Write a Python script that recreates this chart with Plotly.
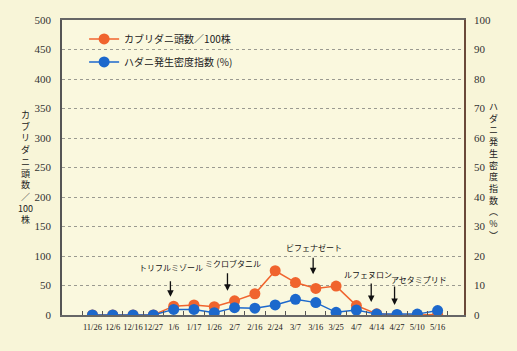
import plotly.graph_objects as go

dates = ["11/26", "12/6", "12/16", "12/27", "1/6", "1/17", "1/26", "2/7", "2/16", "2/24",
         "3/7", "3/16", "3/25", "4/7", "4/14", "4/27", "5/10", "5/16"]
predator = [0, 0, 0, 0, 15, 17, 14, 24, 36, 75, 55, 45, 49, 16, 2, 0, 0, 1]
mite_index = [0, 0, 0, 0, 1.9, 1.9, 0.8, 2.5, 2.3, 3.4, 5.3, 4.2, 0.9, 1.7, 0.3, 0.2, 0.3, 1.5]
left_ticks = [0, 50, 100, 150, 200, 250, 300, 350, 400, 450, 500]
right_ticks = [0, 10, 20, 30, 40, 50, 60, 70, 80, 90, 100]
sprays = ["トリフルミゾール", "ミクロブタニル", "ビフェナゼート", "ルフェヌロン", "アセタミプリド"]

idx = list(range(len(dates)))
ORANGE = "#F0642E"
BLUE = "#1C68CC"
BG = "#F8F5D8"

fig = go.Figure()
fig.add_trace(go.Scatter(
    x=idx, y=predator, name="カブリダニ頭数／100株", mode="lines+markers",
    line=dict(color=ORANGE, width=1.5), marker=dict(color=ORANGE, size=11),
    legendgroup="a", yaxis="y"))
fig.add_trace(go.Scatter(
    x=idx, y=mite_index, name="ハダニ発生密度指数 (%)", mode="lines+markers",
    line=dict(color=BLUE, width=1.5), marker=dict(color=BLUE, size=11),
    legendgroup="b", yaxis="y2"))

serif = "Liberation Serif, DejaVu Serif, serif"
cjk = "Noto Sans CJK JP, sans-serif"

fig.update_layout(
    width=517, height=351,
    margin=dict(l=62, r=53, t=20, b=36),
    paper_bgcolor=BG, plot_bgcolor="#FAF8DE",
    showlegend=True,
    legend=dict(x=0.055, y=0.985, xanchor="left", yanchor="top", bgcolor="rgba(0,0,0,0)",
                font=dict(family=cjk, size=10, color="#222"), tracegroupgap=4),
    xaxis=dict(
        range=[-1.5, 18.3], tickvals=idx, ticktext=dates, ticks="", showgrid=False,
        tickangle=0, ticklabelstandoff=3,
        tickfont=dict(family=serif, size=8.5, color="#222"), zeroline=False,
        showline=True, linecolor="#666", linewidth=1.5, mirror=True,
        minor=dict(tickvals=[i - 0.5 for i in range(len(dates) + 1)], ticks="inside",
                   ticklen=4, tickcolor="#555", showgrid=False),
    ),
    yaxis=dict(
        range=[0, 500], tickvals=left_ticks, showgrid=True, gridcolor="#9a9a90",
        griddash="dot", gridwidth=1, zeroline=False,
        showline=True, linecolor="#555", linewidth=1.5,
        ticks="outside", ticklen=7, tickcolor="rgba(0,0,0,0)",
        tickfont=dict(family=serif, size=11, color="#333"),
    ),
    yaxis2=dict(
        range=[0, 100], tickvals=right_ticks, overlaying="y", side="right",
        showgrid=False, zeroline=False, showline=True, linecolor="#6b4a3a", linewidth=1.5,
        ticks="outside", ticklen=6, tickcolor="rgba(0,0,0,0)",
        tickfont=dict(family=serif, size=11, color="#333"),
    ),
)

# vertical (tategaki) axis titles
left_title = ["カ", "ブ", "リ", "ダ", "ニ", "頭", "数", "／", "100", "株"]
right_title = ["ハ", "ダ", "ニ", "発", "生", "密", "度", "指", "数", "︵", "%", "︶"]
fig.add_annotation(xref="paper", yref="paper", x=-0.115, y=0.71, yanchor="top",
                   text="<br>".join(left_title), showarrow=False,
                   font=dict(family=cjk, size=9, color="#222"))
fig.add_annotation(xref="paper", yref="paper", x=1.09, y=0.735, yanchor="top",
                   text="<br>".join(right_title), showarrow=False,
                   font=dict(family=cjk, size=9, color="#222"))

# spray arrows and labels
arrow_pos = [(3.84, 31, -17), (6.65, 41, -19), (10.87, 69, -18), (13.73, 22, -20), (14.88, 17, -20)]
label_pos = [(3.89, 81), (6.9, 88), (10.89, 115), (13.55, 68), (16.06, 61)]
for name, (ax_, ay_, alen), (tx, ty) in zip(sprays, arrow_pos, label_pos):
    fig.add_annotation(x=ax_, y=ay_, xref="x", yref="y", text="", showarrow=True,
                       ax=0, ay=alen, arrowhead=2, arrowsize=1, arrowwidth=1.3,
                       arrowcolor="#111", standoff=0)
    fig.add_annotation(x=tx, y=ty, xref="x", yref="y", text=name, showarrow=False,
                       font=dict(family=cjk, size=8, color="#111"))

fig.write_html("out.html")
